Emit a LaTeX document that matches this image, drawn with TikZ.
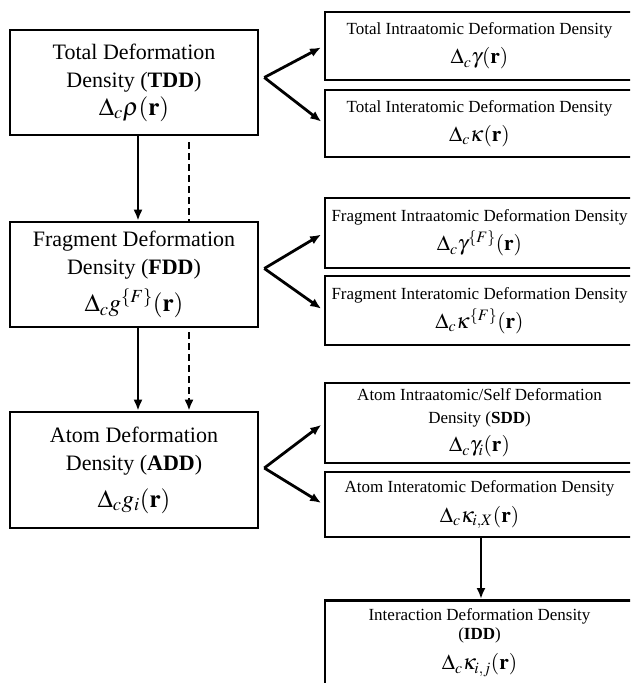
\documentclass[tikz,border=0pt]{standalone}
\usepackage{mathptmx}
\usepackage{fontspec}
\setmainfont{Liberation Serif}
\usetikzlibrary{arrows.meta,calc}
\newcommand{\lm}[1]{{\fontsize{25}{28}\selectfont$#1$}}
\newcommand{\rmth}[1]{{\fontsize{21.5}{28}\selectfont$#1$}}
\begin{document}
\begin{tikzpicture}[x=1pt,y=-1pt,
  box/.style={draw,line width=2.6pt,align=center,inner sep=0pt},
  lbox/.style={box,minimum width=248pt,font=\fontsize{22}{28}\selectfont},
  rbox/.style={box,minimum width=309pt,font=\fontsize{17}{29}\selectfont},
  arr/.style={line width=2.8pt,-{Latex[length=11pt,width=9pt]}},
  dsh/.style={line width=2.8pt,dash pattern=on 7pt off 4pt},
  dsharr/.style={dsh,-{Latex[length=11pt,width=9pt]}},
]
\useasboundingbox (0,0) rectangle (630,683);
\clip (0,0) rectangle (630,683);
% left column
\node[lbox,minimum height=105pt] (tdd) at (134,82.5)
  {Total Deformation\\Density (\textbf{TDD})\\\lm{\Delta_c\rho(\mathbf{r})}};
\node[lbox,minimum height=105pt] (fdd) at (134,274.5)
  {Fragment Deformation\\Density (\textbf{FDD})\\[9pt]\lm{\Delta_c g^{\{F\}}(\mathbf{r})}};
\node[lbox,minimum height=116pt] (add) at (134,470)
  {Atom Deformation\\Density (\textbf{ADD})\\[9pt]\lm{\Delta_c g_i(\mathbf{r})}};
% right column
\node[rbox,minimum height=68pt] (b1) at (479.5,46)
  {Total Intraatomic Deformation Density\\\rmth{\Delta_c\gamma(\mathbf{r})}};
\node[rbox,minimum height=67pt] (b2) at (479.5,123.5)
  {Total Interatomic Deformation Density\\\rmth{\Delta_c\kappa(\mathbf{r})}};
\node[rbox,minimum height=70pt] (b3) at (479.5,233)
  {Fragment Intraatomic Deformation Density\\\rmth{\Delta_c\gamma^{\{F\}}(\mathbf{r})}};
\node[rbox,minimum height=69pt] (b4) at (479.5,310.5)
  {Fragment Interatomic Deformation Density\\\rmth{\Delta_c\kappa^{\{F\}}(\mathbf{r})}};
\node[rbox,minimum height=80pt,font=\fontsize{17}{23}\selectfont] (b5) at (479.5,423)
  {Atom Intraatomic/Self Deformation\\Density (\textbf{SDD})\\[5pt]\rmth{\Delta_c\gamma_i(\mathbf{r})}};
\node[rbox,minimum height=65pt] (b6) at (479.5,504.5)
  {Atom Interatomic Deformation Density\\[1pt]\rmth{\Delta_c\kappa_{i,X}(\mathbf{r})}};
\node[box,minimum width=309pt,minimum height=110pt,anchor=north] (idd) at (479.5,599) {};
\node[anchor=north,align=center,inner sep=0pt,font=\fontsize{17}{19}\selectfont] (iddtext) at ($(idd.north)+(0,9)$)
  {Interaction Deformation Density\\(\textbf{IDD})\\[10pt]\rmth{\Delta_c\kappa_{i,j}(\mathbf{r})}};
% vertical connectors
\coordinate (sx) at (138,0);
\coordinate (dx) at (189,0);
\coordinate (ix) at (481,0);
\draw[arr] (tdd.south -| sx) -- (fdd.north -| sx);
\draw[dsh] ($(tdd.south -| dx)+(0,6)$) -- (fdd.north -| dx);
\draw[arr] (fdd.south -| sx) -- (add.north -| sx);
\draw[dsharr] ($(fdd.south -| dx)+(0,4)$) -- (add.north -| dx);
\draw[arr] (b6.south -| ix) -- (idd.north -| ix);
% diagonal connectors
\coordinate (ta) at ($(tdd.east)+(5,-5)$);
\coordinate (fa) at ($(fdd.east)+(5,-6)$);
\coordinate (aa) at ($(add.east)+(5,-2)$);
\draw[arr,shorten >=3pt] (ta) -- (b1.west);
\draw[arr,shorten >=3pt] (ta) -- (b2.west);
\draw[arr,shorten >=3pt] (fa) -- (b3.west);
\draw[arr,shorten >=3pt] (fa) -- (b4.west);
\draw[arr,shorten >=3pt] (aa) -- (b5.west);
\draw[arr,shorten >=3pt] (aa) -- (b6.west);
\end{tikzpicture}
\end{document}
